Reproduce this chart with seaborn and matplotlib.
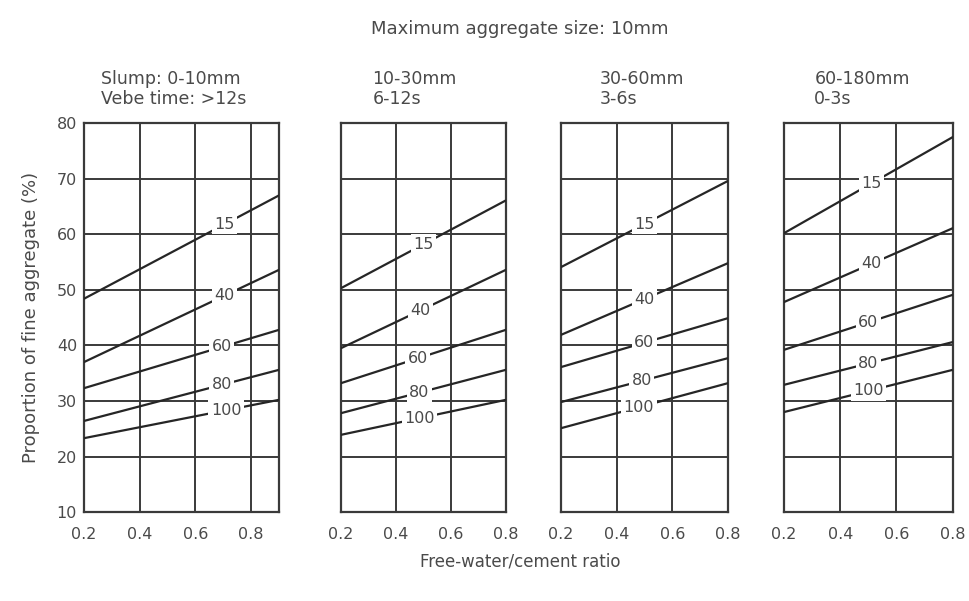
import numpy as np
import pandas as pd
import matplotlib
matplotlib.use("Agg")
import matplotlib.pyplot as plt
import seaborn as sns

# Free-water/cement ratio range of each panel
ratio_start = [0.2, 0.2, 0.2, 0.2]
ratio_end = [0.9, 0.8, 0.8, 0.8]

# Percentage of aggregate passing the 600 micron sieve (curve labels)
curve_labels = ["15", "40", "60", "80", "100"]

# Proportion of fine aggregate (%) at each end of every curve
slump_0_10_start = [48.4, 37.0, 32.3, 26.4, 23.3]
slump_0_10_end = [67.0, 53.6, 42.8, 35.6, 30.2]
slump_10_30_start = [50.3, 39.5, 33.2, 27.8, 23.9]
slump_10_30_end = [66.1, 53.6, 42.8, 35.6, 30.2]
slump_30_60_start = [54.1, 41.9, 36.1, 29.8, 25.1]
slump_30_60_end = [69.6, 54.8, 44.9, 37.7, 33.2]
slump_60_180_start = [60.2, 47.8, 39.2, 32.9, 28.0]
slump_60_180_end = [77.5, 61.1, 49.1, 40.6, 35.6]

panel_titles = [
    "Slump: 0-10mm\nVebe time: >12s",
    "10-30mm\n6-12s",
    "30-60mm\n3-6s",
    "60-180mm\n0-3s",
]
x_ticks = [0.2, 0.4, 0.6, 0.8]
y_ticks = [10, 20, 30, 40, 50, 60, 70, 80]
main_title = "Maximum aggregate size: 10mm"
x_title = "Free-water/cement ratio"
y_title = "Proportion of fine aggregate (%)"

starts = [slump_0_10_start, slump_10_30_start, slump_30_60_start, slump_60_180_start]
ends = [slump_0_10_end, slump_10_30_end, slump_30_60_end, slump_60_180_end]

rows = []
for p in range(4):
    for c, lab in enumerate(curve_labels):
        rows.append((p, lab, ratio_start[p], starts[p][c]))
        rows.append((p, lab, ratio_end[p], ends[p][c]))
df = pd.DataFrame(rows, columns=["panel", "curve", "ratio", "fine"])

sns.set_theme(style="white")
plt.rcParams["font.family"] = ["DejaVu Sans"]

ink = "#262626"
grid_c = "#3a3a3a"
text_c = "#4a4a4a"

fig = plt.figure(figsize=(9.70, 6.01), dpi=100)
fig.patch.set_facecolor("white")

# axes rectangles in figure fractions
lefts = [0.0866, 0.3515, 0.5784, 0.8082]
widths = [0.201, 0.170, 0.172, 0.174]
bottom, height = 0.148, 0.647
title_x = [0.087, 0.19, 0.23, 0.18]
label_x = [[0.705, 0.705, 0.695, 0.695, 0.71],
           [0.50, 0.49, 0.48, 0.485, 0.485],
           [0.50, 0.50, 0.50, 0.49, 0.48],
           [0.51, 0.51, 0.50, 0.50, 0.50]]

for p in range(4):
    ax = fig.add_axes([lefts[p], bottom, widths[p], height])
    ax.set_xlim(ratio_start[p], ratio_end[p])
    ax.set_ylim(10, 80)
    for gy in y_ticks[1:-1]:
        ax.axhline(gy, color=grid_c, lw=1.4, zorder=1)
    for gx in x_ticks[1:]:
        if gx < ratio_end[p] - 1e-9:
            ax.axvline(gx, color=grid_c, lw=1.4, zorder=1)
    sub = df[df["panel"] == p]
    sns.lineplot(data=sub, x="ratio", y="fine", units="curve", estimator=None,
                 color=ink, lw=1.6, ax=ax, legend=False, zorder=3)
    for c, lab in enumerate(curve_labels):
        xs = [ratio_start[p], ratio_end[p]]
        ys = [starts[p][c], ends[p][c]]
        lx = label_x[p][c]
        ly = np.interp(lx, xs, ys)
        ax.text(lx, ly, lab, ha="center", va="center", fontsize=11.5, color=text_c,
                zorder=5, bbox=dict(boxstyle="square,pad=0.15", fc="white", ec="none"))
    for s in ax.spines.values():
        s.set_color(grid_c)
        s.set_linewidth(1.6)
    ax.set_xticks(x_ticks)
    ax.set_xticklabels([f"{v:.1f}" for v in x_ticks])
    ax.tick_params(axis="x", length=0, pad=11, labelsize=11.5, labelcolor=text_c)
    if p == 0:
        ax.set_yticks(y_ticks)
        ax.tick_params(axis="y", length=0, pad=5, labelsize=11.5, labelcolor=text_c)
        ax.set_ylabel(y_title, fontsize=13, color=text_c, labelpad=12)
    else:
        ax.set_yticks([])
        ax.set_ylabel("")
    ax.set_xlabel("")
    ax.set_title(panel_titles[p], loc="left", fontsize=12.5, color=text_c,
                 pad=14, x=title_x[p], linespacing=1.15)

fig.text(0.536, 0.952, main_title, ha="center", va="center", fontsize=13, color=text_c)
fig.text(0.536, 0.066, x_title, ha="center", va="center", fontsize=12, color=text_c)

fig.savefig("out.png", dpi=100, facecolor="white")
